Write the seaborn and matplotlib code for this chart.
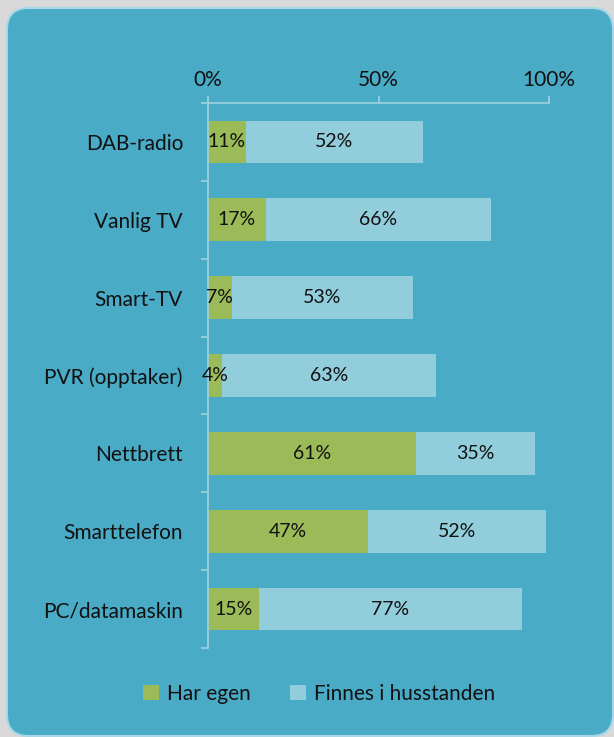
import matplotlib
matplotlib.use("Agg")
import matplotlib.pyplot as plt
from matplotlib.patches import FancyBboxPatch, Patch
import seaborn as sns
import numpy as np
import pandas as pd

categories = ["DAB-radio", "Vanlig TV", "Smart-TV", "PVR (opptaker)", "Nettbrett", "Smarttelefon", "PC/datamaskin"]
har_egen = [11, 17, 7, 4, 61, 47, 15]
finnes = [52, 66, 53, 63, 35, 52, 77]
series_names = ["Har egen", "Finnes i husstanden"]
xticks = [0, 50, 100]
xtick_labels = ["0%", "50%", "100%"]

GREEN = "#9BBB59"
LIGHT = "#92CDDC"
TEAL = "#4AABC6"
AXC = "#9FD2E0"
FS = 15
FS_VAL = 14

sns.set_theme(style="white")
plt.rcParams["font.family"] = ["Lato", "DejaVu Sans"]

fig = plt.figure(figsize=(6.14, 7.37), dpi=100)
fig.patch.set_facecolor("#D9D9D9")
box = FancyBboxPatch((7 / 614, 1 - 736 / 737), 606 / 614, 728 / 737,
                     boxstyle="round,pad=0,rounding_size=0.035",
                     transform=fig.transFigure, facecolor=TEAL,
                     edgecolor="#A8D8E6", linewidth=1.5, mutation_aspect=614 / 737,
                     zorder=-10)
fig.patches.append(box)

ax = fig.add_axes([208 / 614, 1 - 648 / 737, 341 / 614, 545 / 737])
ax.set_zorder(5)
ax.set_facecolor("none")

df = pd.DataFrame({"cat": categories, "har": har_egen, "fin": finnes})
df["total"] = df["har"] + df["fin"]

sns.barplot(data=df, x="total", y="cat", orient="h", color=LIGHT, saturation=1,
            width=0.55, ax=ax, linewidth=0)
sns.barplot(data=df, x="har", y="cat", orient="h", color=GREEN, saturation=1,
            width=0.55, ax=ax, linewidth=0)

for i, (h, f) in enumerate(zip(har_egen, finnes)):
    ax.text(h / 2, i, f"{h}%", ha="center", va="center", fontsize=FS_VAL, color="#111111")
    ax.text(h + f / 2, i, f"{f}%", ha="center", va="center", fontsize=FS_VAL, color="#111111")

ax.set_xlim(0, 100)
ax.set_ylim(len(categories) - 0.5, -0.5)
ax.set_xlabel("")
ax.set_ylabel("")

ax.xaxis.tick_top()
ax.set_xticks(xticks)
ax.set_xticklabels(xtick_labels, fontsize=FS, color="#111111")
ax.tick_params(axis="x", which="major", direction="out", length=5, width=1.2,
               color=AXC, pad=4, top=True, bottom=False)

ax.set_yticks(np.arange(-0.5, len(categories), 1.0))
ax.set_yticklabels([])
ax.set_yticks(np.arange(len(categories)), minor=True)
ax.set_yticklabels(categories, minor=True, fontsize=FS, color="#111111")
ax.tick_params(axis="y", which="major", direction="out", length=5, width=1.2, color=AXC, left=True)
ax.tick_params(axis="y", which="minor", length=0, pad=18, left=True)

for s in ["right", "bottom"]:
    ax.spines[s].set_visible(False)
for s in ["top", "left"]:
    ax.spines[s].set_visible(True)
    ax.spines[s].set_color(AXC)
    ax.spines[s].set_linewidth(1.2)

handles = [Patch(facecolor=GREEN, edgecolor="none"), Patch(facecolor=LIGHT, edgecolor="none")]
fig.legend(handles, series_names, loc="center", bbox_to_anchor=(0.52, 1 - 694 / 737),
           ncol=2, frameon=False, fontsize=FS, handlelength=0.75, handleheight=0.75,
           handletextpad=0.4, columnspacing=1.9, labelcolor="#111111")

fig.savefig("out.png", dpi=100, facecolor=fig.get_facecolor())
